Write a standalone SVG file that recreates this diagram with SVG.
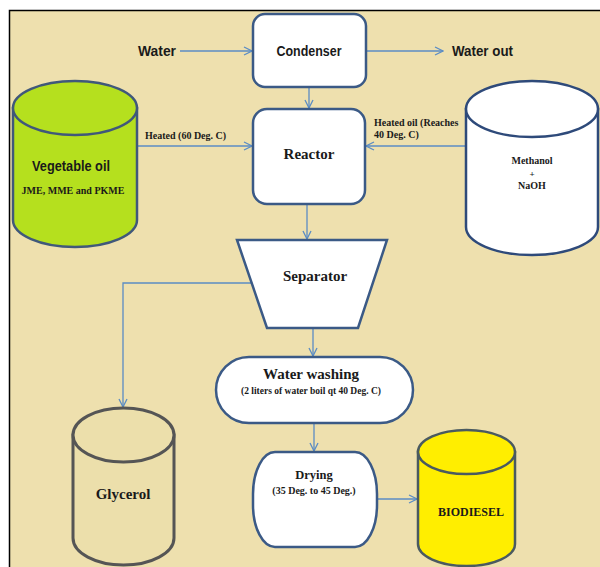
<svg xmlns="http://www.w3.org/2000/svg" width="600" height="567" viewBox="0 0 600 567">
<style>
.sans{font-family:"Liberation Sans",Arial,sans-serif;font-weight:bold;fill:#1a1a1a}
.serif{font-family:"Liberation Serif","Times New Roman","DejaVu Serif",serif;font-weight:bold;fill:#1a1a1a}
.box{fill:#ffffff;stroke:#3b5a86;stroke-width:2.5}
.conn{fill:none;stroke:#5b8cc4;stroke-width:1.3}
</style>
<defs>
<marker id="arr" viewBox="0 0 10 10" refX="9" refY="5" markerWidth="10" markerHeight="10" markerUnits="userSpaceOnUse" orient="auto">
<path d="M1,1 L9,5 L1,9" fill="none" stroke="#5b8cc4" stroke-width="1.3"/>
</marker>
</defs>
<rect x="0" y="0" width="600" height="567" fill="#ffffff"/>
<rect x="10" y="11" width="590" height="556" fill="#eee0ae"/>
<path d="M9.5,567 V10.5 H600" fill="none" stroke="#000" stroke-width="1.5"/>

<g id="connectors">
<line class="conn" x1="180" y1="51" x2="252" y2="51" marker-end="url(#arr)"/>
<line class="conn" x1="366" y1="51" x2="443" y2="51" marker-end="url(#arr)"/>
<line class="conn" x1="309" y1="87" x2="309" y2="108" marker-end="url(#arr)"/>
<line class="conn" x1="137" y1="146" x2="252" y2="146" marker-end="url(#arr)"/>
<line class="conn" x1="466" y1="146" x2="366" y2="146" marker-end="url(#arr)"/>
<line class="conn" x1="307" y1="204" x2="307" y2="239" marker-end="url(#arr)"/>
<polyline class="conn" points="252,283 123,283 123,407" marker-end="url(#arr)"/>
<line class="conn" x1="313" y1="328" x2="313" y2="356" marker-end="url(#arr)"/>
<line class="conn" x1="314" y1="423" x2="314" y2="451" marker-end="url(#arr)"/>
<line class="conn" x1="377" y1="499" x2="417" y2="499" marker-end="url(#arr)"/>
<text class="serif" x="145" y="139" font-size="10">Heated (60 Deg. C)</text>
<text class="serif" x="374" y="126" font-size="10">Heated oil (Reaches</text>
<text class="serif" x="374" y="138" font-size="10">40 Deg. C)</text>
</g>

<g id="water-in">
<text class="sans" x="138" y="56" font-size="14" textLength="38" lengthAdjust="spacingAndGlyphs">Water</text>
</g>
<g id="water-out">
<text class="sans" x="452" y="56" font-size="14" textLength="61" lengthAdjust="spacingAndGlyphs">Water out</text>
</g>

<g id="condenser">
<rect class="box" x="253" y="14" width="113" height="73" rx="12"/>
<text class="sans" x="309" y="56" font-size="14" text-anchor="middle" textLength="65" lengthAdjust="spacingAndGlyphs">Condenser</text>
</g>

<g id="reactor">
<rect class="box" x="253" y="109" width="112" height="95" rx="14"/>
<text class="serif" x="309" y="159" font-size="15" text-anchor="middle">Reactor</text>
</g>

<g id="vegetable-oil">
<path d="M13,108 V220 A62,27 0 0 0 137,220 V108 Z" fill="#b5e01e" stroke="#40587a" stroke-width="2.5"/>
<ellipse cx="75" cy="108" rx="62" ry="27" fill="#b5e01e" stroke="#40587a" stroke-width="2.5"/>
<text class="sans" x="71" y="171" font-size="14" text-anchor="middle" textLength="78" lengthAdjust="spacingAndGlyphs">Vegetable oil</text>
<text class="serif" x="73" y="194" font-size="10" text-anchor="middle">JME, MME and PKME</text>
</g>

<g id="methanol">
<path d="M466,109 V227 A66,28 0 0 0 598,227 V109 Z" fill="#ffffff" stroke="#2e4a7a" stroke-width="2.5"/>
<ellipse cx="532" cy="109" rx="66" ry="28" fill="#ffffff" stroke="#2e4a7a" stroke-width="2.5"/>
<text class="serif" x="532" y="164" font-size="10" text-anchor="middle">Methanol</text>
<text class="serif" x="532" y="177" font-size="9" text-anchor="middle">+</text>
<text class="serif" x="532" y="189" font-size="10" text-anchor="middle">NaOH</text>
</g>

<g id="separator">
<polygon points="237,240 387,240 358,328 267,328" fill="#ffffff" stroke="#3b5a86" stroke-width="2.5"/>
<text class="serif" x="315" y="281" font-size="15" text-anchor="middle">Separator</text>
</g>

<g id="water-washing">
<rect class="box" x="216" y="357" width="197" height="66" rx="33"/>
<text class="serif" x="311" y="379" font-size="15" text-anchor="middle">Water washing</text>
<text class="serif" x="311" y="394" font-size="9.5" text-anchor="middle">(2 liters of water boil qt 40 Deg. C)</text>
</g>

<g id="glycerol">
<path d="M73,435 V538 A50.5,27 0 0 0 174,538 V435 Z" fill="#ecdfab" stroke="#555555" stroke-width="3"/>
<ellipse cx="123.5" cy="435" rx="50.5" ry="27" fill="#ecdfab" stroke="#555555" stroke-width="3"/>
<text class="serif" x="123" y="499" font-size="15" text-anchor="middle">Glycerol</text>
</g>

<g id="drying">
<rect class="box" x="253" y="452" width="124" height="95" rx="22" ry="42"/>
<text class="serif" x="314" y="479" font-size="12.5" text-anchor="middle">Drying</text>
<text class="serif" x="314" y="494" font-size="10" text-anchor="middle">(35 Deg. to 45 Deg.)</text>
</g>

<g id="biodiesel">
<path d="M418,452 V544 A48.5,22 0 0 0 515,544 V452 Z" fill="#ffee00" stroke="#4a5a60" stroke-width="2.5"/>
<ellipse cx="466.5" cy="452" rx="48.5" ry="22" fill="#ffee00" stroke="#4a5a60" stroke-width="2.5"/>
<text class="serif" x="471" y="516" font-size="12" text-anchor="middle">BIODIESEL</text>
</g>
</svg>
